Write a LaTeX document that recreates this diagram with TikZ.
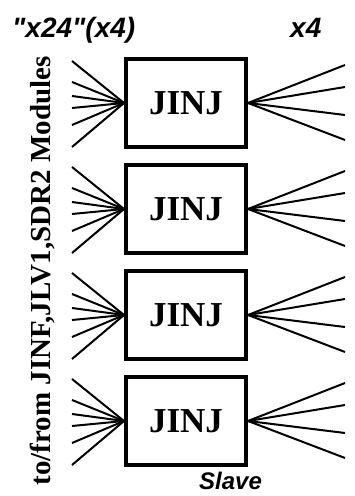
\documentclass[tikz,border=0pt]{standalone}
\usepackage{fontspec}
\setmainfont{Liberation Serif}
\setsansfont{Liberation Sans}[Ligatures=TeXOff]
\usetikzlibrary{positioning}

\begin{document}
\begin{tikzpicture}[x=1pt, y=1pt, node distance=14pt,
  jbox/.style={draw, line width=4pt, minimum width=120pt, minimum height=88pt, inner sep=0pt, font=\fontsize{35}{35}\selectfont\bfseries},
  fan/.style={line width=2pt},
  tag/.style={font=\fontsize{28}{28}\selectfont\sffamily\bfseries\itshape, inner sep=0pt}]
\useasboundingbox (0,0) rectangle (354,496);
\node[jbox] (j1) at (186,393) {JINJ};
\node[jbox, below=of j1] (j2) {JINJ};
\node[jbox, below=of j2] (j3) {JINJ};
\node[jbox, below=of j3] (j4) {JINJ};
\foreach \b in {1,...,4}{
  \foreach \d [count=\k] in {42,21,7,-5,-22,-44}{
    \coordinate (in\b\k) at ([xshift=-52pt, yshift=\d pt]j\b.west);
    \draw[fan] (in\b\k) -- (j\b.west);}
  \foreach \d [count=\k] in {38,16,-12,-37}{
    \coordinate (out\b\k) at ([xshift=97pt, yshift=\d pt]j\b.east);
    \draw[fan] (j\b.east) -- (out\b\k);}
}
\node[tag, anchor=base west] (cnt) at (12,458) {"x24"(x4)};
\node[tag, anchor=base west] (mult) at (290,458) {x4};
\node[tag, anchor=base west, font=\fontsize{24}{24}\selectfont\sffamily\bfseries\itshape] (slave) at (199,6) {Slave};
\node[rotate=90, anchor=base, inner sep=0pt, font=\fontsize{29}{29}\selectfont\bfseries] (mods) at (50,225) {to/from JINF,JLV1,SDR2 Modules};
\end{tikzpicture}
\end{document}
